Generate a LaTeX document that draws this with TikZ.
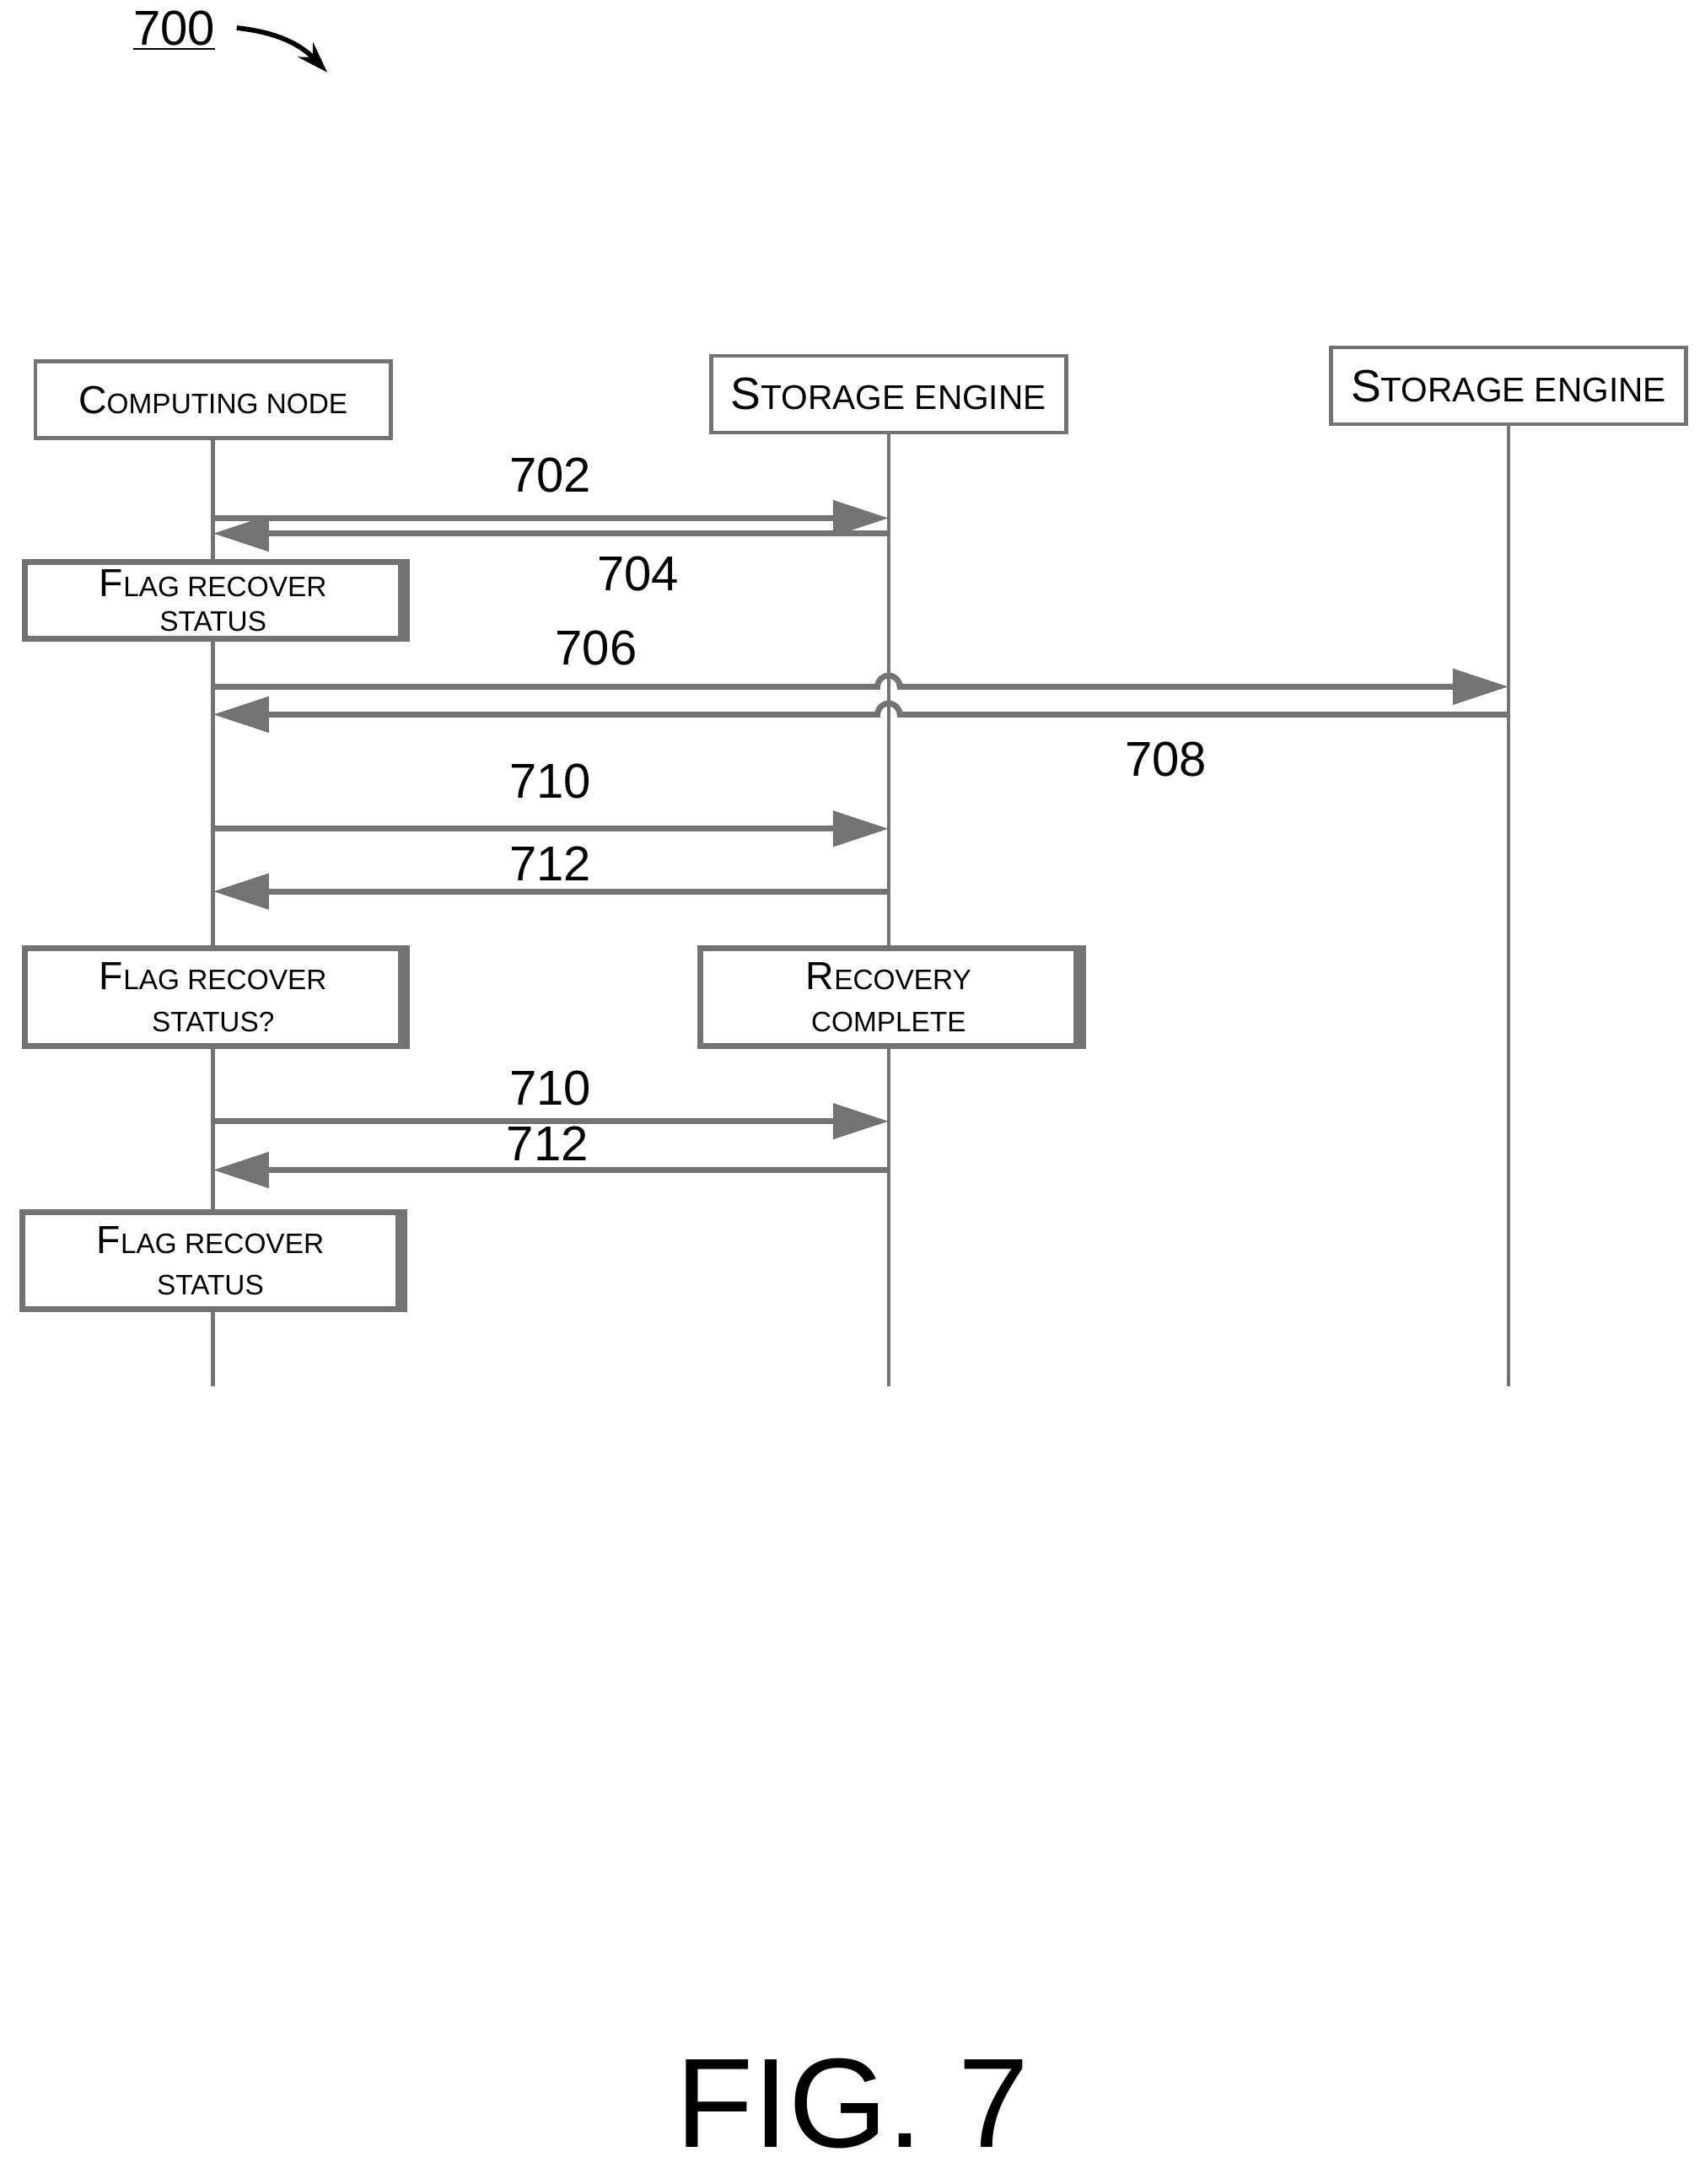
\documentclass[tikz,border=0pt]{standalone}
\usepackage{fontspec}
\setmainfont{Liberation Sans}
\usetikzlibrary{arrows.meta,positioning}
\newcommand{\capsA}[2]{{\fontsize{16}{20}\selectfont #1}{\fontsize{11.5}{20}\selectfont #2}}
\newcommand{\capsB}[2]{{\fontsize{18.5}{24}\selectfont #1}{\fontsize{14}{24}\selectfont #2}}
\definecolor{pen}{gray}{0.45}
\tikzset{
  head/.style={draw=pen,line width=1.6pt,fill=white,minimum height=1.1cm,align=center,inner sep=2pt},
  act/.style={draw=pen,line width=2.4pt,fill=white,align=center,inner sep=2pt},
  edge/.style={draw=pen,line width=5pt},
  life/.style={draw=pen,line width=1.6pt},
  msg/.style={draw=pen,line width=2.4pt,-{Triangle[length=0.8cm,width=0.5cm,fill=pen]}},
  num/.style={font=\fontsize{20}{24}\selectfont}
}
\begin{document}
\begin{tikzpicture}[x=0.02cm,y=-0.02cm]
\useasboundingbox (0,0) rectangle (1224,1568);
% heads
\node[head,minimum width=5.1cm] (cn) at (153,287) {\capsA{C}{OMPUTING NODE}};
\node[head,minimum width=5.1cm] (se1) at (638,283) {\capsB{S}{TORAGE ENGINE}};
\node[head,minimum width=5.1cm] (se2) at (1083,277) {\capsB{S}{TORAGE ENGINE}};
\coordinate (cnend) at (153,995);
\coordinate (se1end) at (638,995);
\coordinate (se2end) at (1083,995);
\draw[life] (cn) -- (cnend);
\draw[life] (se1) -- (se1end);
\draw[life] (se2) -- (se2end);
% title
\node[font=\fontsize{20}{24}\selectfont] (ref) at (125,22) {\underline{700}};
\coordinate (refend) at (235,52);
\draw[line width=2pt,-{Stealth[length=0.45cm,width=0.3cm]}] (170,20) to[bend left=20] (refend);
% messages
\coordinate (a702) at (153,372); \coordinate (b702) at (638,372);
\coordinate (a704) at (638,383); \coordinate (b704) at (153,383);
\draw[msg] (a702) -- (b702);
\draw[msg] (a704) -- (b704);
\node[num] (l702) at (395,341) {702};
\node[num] (l704) at (458,412) {704};
\node[act,minimum width=5.4cm,minimum height=1.1cm] (fl1) at (153,431)
  {\capsA{F}{LAG RECOVER}\\[2pt]{\fontsize{11.5}{14}\selectfont STATUS}};
\draw[edge] (fl1.north east) -- (fl1.south east);
\coordinate (a706) at (153,493); \coordinate (b706) at (1083,493);
\coordinate (a708) at (1083,513); \coordinate (b708) at (153,513);
\draw[msg] (a706) -- (630,493) arc[start angle=180,end angle=0,radius=0.16cm] -- (b706);
\draw[msg] (a708) -- (646,513) arc[start angle=0,end angle=180,radius=0.16cm] -- (b708);
\node[num] (l706) at (428,465) {706};
\node[num] (l708) at (837,545) {708};
\coordinate (a710) at (153,595); \coordinate (b710) at (638,595);
\coordinate (a712) at (638,640); \coordinate (b712) at (153,640);
\draw[msg] (a710) -- (b710);
\draw[msg] (a712) -- (b712);
\node[num] (l710) at (395,561) {710};
\node[num] (l712) at (395,620) {712};
\node[act,minimum width=5.4cm,minimum height=1.4cm] (fl2) at (153,716)
  {\capsA{F}{LAG RECOVER}\\[5pt]{\fontsize{11.5}{14}\selectfont STATUS?}};
\draw[edge] (fl2.north east) -- (fl2.south east);
\node[act,minimum width=5.4cm,minimum height=1.4cm] (rc) at (638,716)
  {\capsA{R}{ECOVERY}\\[5pt]{\fontsize{11.5}{14}\selectfont COMPLETE}};
\draw[edge] (rc.north east) -- (rc.south east);
\coordinate (a710b) at (153,805); \coordinate (b710b) at (638,805);
\coordinate (a712b) at (638,840); \coordinate (b712b) at (153,840);
\draw[msg] (a710b) -- (b710b);
\draw[msg] (a712b) -- (b712b);
\node[num] (l710b) at (395,781) {710};
\node[num] (l712b) at (393,821) {712};
\node[act,minimum width=5.4cm,minimum height=1.4cm] (fl3) at (151,905)
  {\capsA{F}{LAG RECOVER}\\[5pt]{\fontsize{11.5}{14}\selectfont STATUS}};
\draw[edge] (fl3.north east) -- (fl3.south east);
% figure label
\node[font=\fontsize{52}{58}\selectfont] (fig) at (612,1510) {FIG. 7};
\end{tikzpicture}
\end{document}
